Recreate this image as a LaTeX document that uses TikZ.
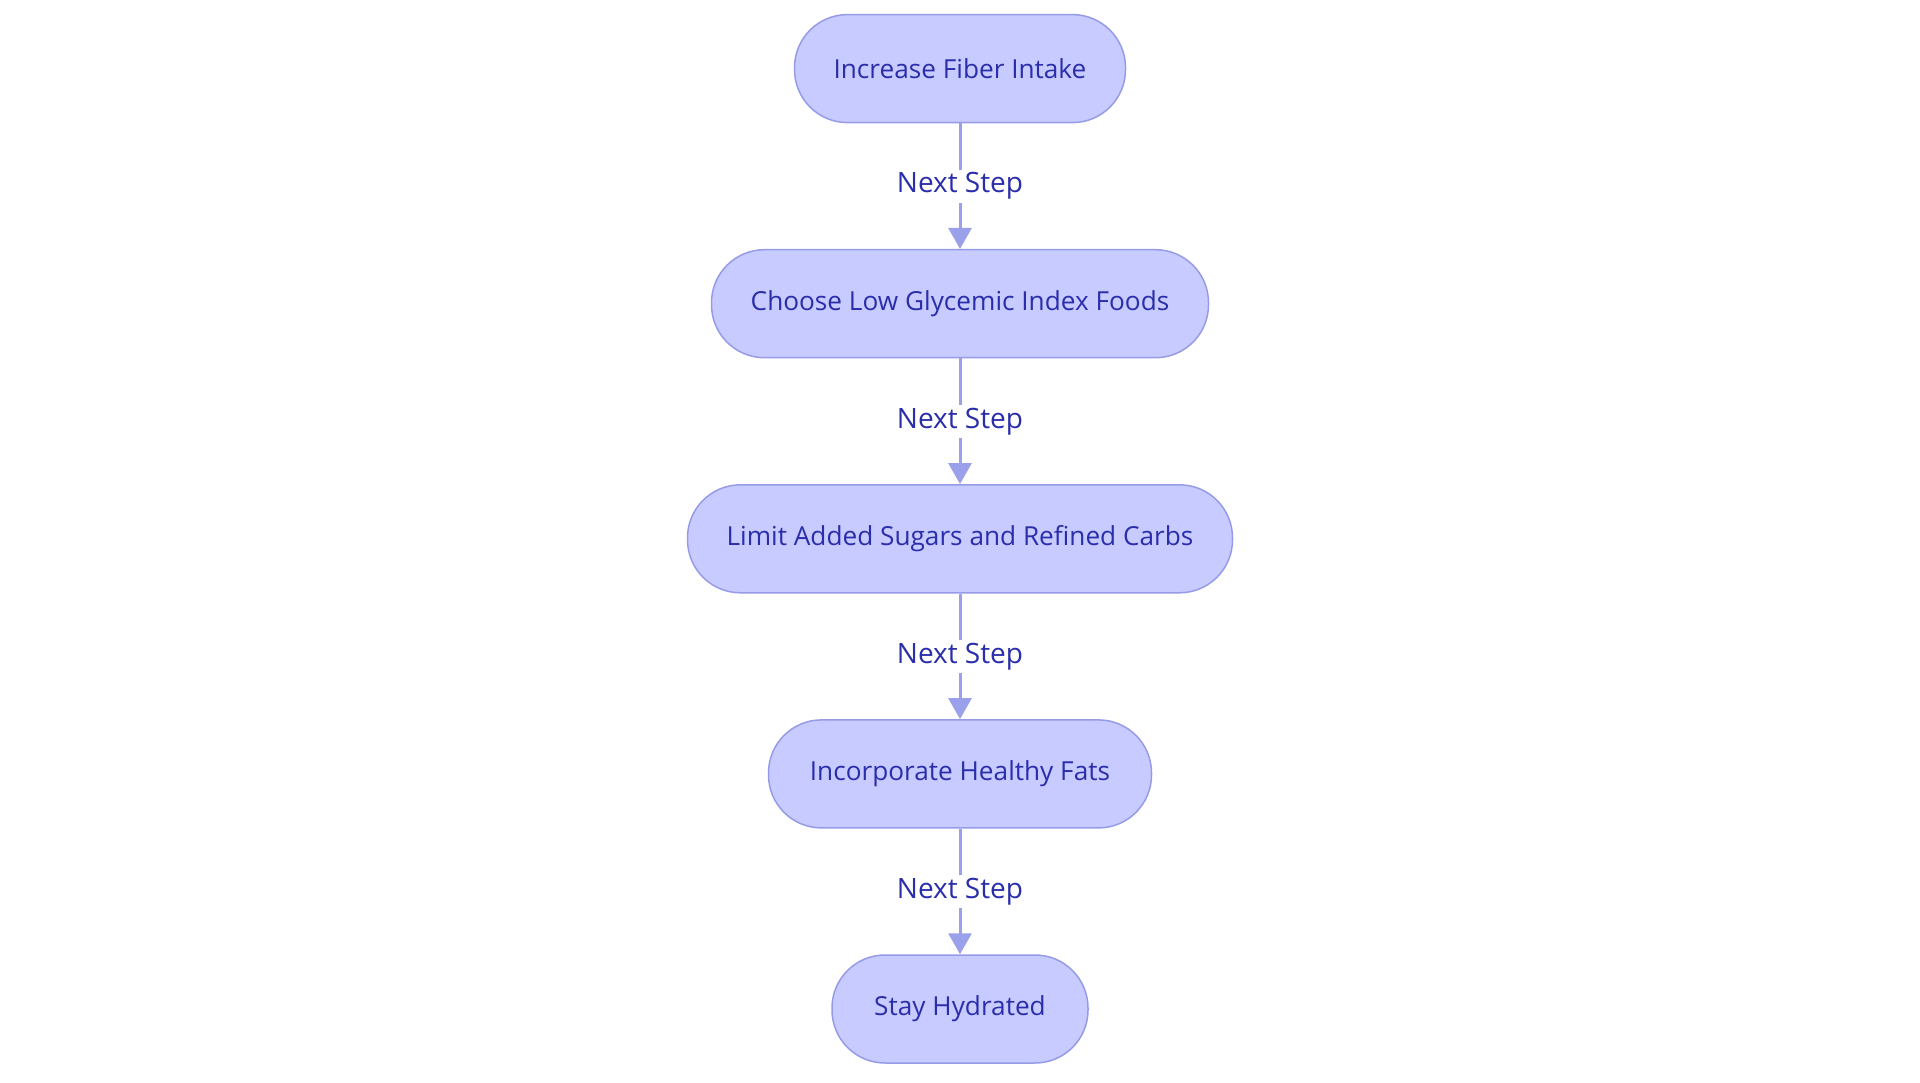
\documentclass[tikz,border=0pt]{standalone}
\usepackage{fontspec}
\setmainfont{Open Sans}
\usetikzlibrary{arrows.meta}
\definecolor{nodefill}{RGB}{200,203,255}
\definecolor{nodeline}{RGB}{150,155,232}
\definecolor{txt}{RGB}{42,46,170}
\definecolor{arr}{RGB}{155,160,235}
\tikzset{
  stepbox/.style={rectangle, rounded corners=53pt, draw=nodeline, fill=nodefill, line width=1.5pt,
    minimum height=108pt, inner sep=0pt, text=txt, font=\fontsize{26.2}{30}\selectfont},
  conn/.style={draw=arr, line width=3pt, -{Triangle[length=21pt,width=23pt]}},
  lbl/.style={fill=white, text=txt, font=\fontsize{28}{32}\selectfont, inner sep=3pt}
}
\begin{document}
\begin{tikzpicture}[x=1pt,y=-1pt]
\useasboundingbox (0,0) rectangle (1920,1083);
\node[stepbox, minimum width=331pt] (n1) at (960,68.6) {Increase Fiber Intake};
\node[stepbox, minimum width=497pt] (n2) at (960,303.7) {Choose Low Glycemic Index Foods};
\node[stepbox, minimum width=545pt] (n3) at (960,538.8) {Limit Added Sugars and Refined Carbs};
\node[stepbox, minimum width=383pt] (n4) at (960,773.9) {Incorporate Healthy Fats};
\node[stepbox, minimum width=256pt] (n5) at (960,1009) {Stay Hydrated};
\draw[conn] (n1) -- node[lbl] {Next Step} (n2);
\draw[conn] (n2) -- node[lbl] {Next Step} (n3);
\draw[conn] (n3) -- node[lbl] {Next Step} (n4);
\draw[conn] (n4) -- node[lbl] {Next Step} (n5);
\end{tikzpicture}
\end{document}
